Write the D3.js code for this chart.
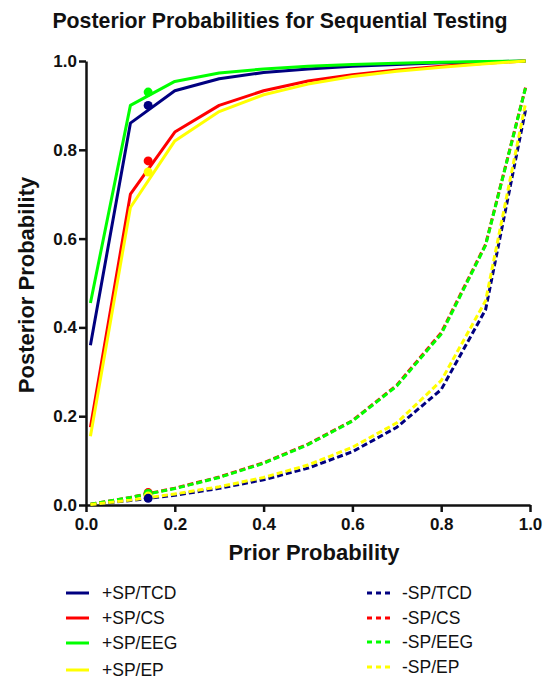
<!DOCTYPE html>
<html><head><meta charset="utf-8">
<script src="https://cdn.jsdelivr.net/npm/d3@7"></script>
<style>body{margin:0;background:#fff}svg{display:block}text{font-family:"Liberation Sans",Arial,sans-serif}</style>
</head><body><svg id="c" width="544" height="681"></svg>
<script>
const priorX = [0.01,0.1,0.2,0.3,0.4,0.5,0.6,0.7,0.8,0.9,0.99];
const posTCD = [0.36,0.86,0.933,0.96,0.974,0.982,0.988,0.992,0.996,0.998,1.0];
const posCS  = [0.175,0.70,0.84,0.90,0.933,0.955,0.969,0.98,0.988,0.995,1.0];
const posEEG = [0.455,0.90,0.954,0.973,0.982,0.988,0.992,0.995,0.997,0.999,1.0];
const posEP  = [0.155,0.67,0.82,0.886,0.924,0.948,0.965,0.977,0.986,0.994,1.0];
const negTCD = [0.001,0.01,0.022,0.0375,0.057,0.083,0.12,0.175,0.26,0.44,0.89];
const negCS  = [0.002,0.017,0.038,0.063,0.095,0.137,0.19,0.27,0.388,0.587,0.94];
const negEEG = [0.002,0.017,0.037,0.062,0.094,0.136,0.189,0.268,0.385,0.585,0.94];
const negEP  = [0.001,0.011,0.025,0.041,0.062,0.09,0.13,0.185,0.28,0.46,0.905];
const markerX = 0.14;
const markerPos = [0.90,0.775,0.93,0.75];   // TCD, CS, EEG, EP
const markerNeg = [0.015,0.028,0.026,0.02];
const tests = ["TCD","CS","EEG","EP"];
const colors = ["#000080","#ff0000","#00ff00","#ffff00"];
const ticks = [0,0.2,0.4,0.6,0.8,1.0];

const svg = d3.select("#c");
const x = d3.scaleLinear().domain([0,1]).range([86,530]);
const y = d3.scaleLinear().domain([0,1]).range([505,61]);

svg.append("text").attr("x",280).attr("y",28).attr("text-anchor","middle")
  .style("font-weight","bold").style("font-size","21.3px").attr("fill","#111").text("Posterior Probabilities for Sequential Testing");

const xa = svg.append("g").attr("transform","translate(0,505)")
  .call(d3.axisBottom(x).tickValues(ticks).tickFormat(d3.format(".1f")).tickSize(7).tickSizeOuter(0));
const ya = svg.append("g").attr("transform","translate(86,0)")
  .call(d3.axisLeft(y).tickValues(ticks).tickFormat(d3.format(".1f")).tickSize(7).tickSizeOuter(0));
[xa,ya].forEach(a=>{
  a.select(".domain").attr("stroke","#111").attr("stroke-width",2.5);
  a.selectAll(".tick line").attr("stroke","#111").attr("stroke-width",2.5);
  a.selectAll(".tick text").style("font-weight","bold").style("font-size","17px").attr("fill","#111");
});
xa.selectAll(".tick text").attr("dy","0.71em").attr("y",13);
ya.selectAll(".tick text").attr("x",-9);

svg.append("text").attr("x",314).attr("y",560).attr("text-anchor","middle")
  .style("font-weight","bold").style("font-size","22px").attr("fill","#111").text("Prior Probability");
svg.append("text").attr("transform","translate(34,285) rotate(-90)").attr("text-anchor","middle")
  .style("font-weight","bold").style("font-size","22px").attr("fill","#111").text("Posterior Probability");

const line = d3.line().x(d=>x(d[0])).y(d=>y(d[1]));
const posSeries = [posTCD,posCS,posEEG,posEP];
const negSeries = [negTCD,negCS,negEEG,negEP];
negSeries.forEach((s,i)=>{
  svg.append("path").datum(priorX.map((p,j)=>[p,s[j]])).attr("d",line)
    .attr("fill","none").attr("stroke",colors[i]).attr("stroke-width",3).attr("stroke-dasharray","6,3");
});
posSeries.forEach((s,i)=>{
  svg.append("path").datum(priorX.map((p,j)=>[p,s[j]])).attr("d",line)
    .attr("fill","none").attr("stroke",colors[i]).attr("stroke-width",3).attr("stroke-linejoin","round");
});
const mOrder=[1,2,3,0];
mOrder.forEach(i=>{
  svg.append("circle").attr("cx",x(markerX)).attr("cy",y(markerPos[i])).attr("r",4.5).attr("fill",colors[i]);
  svg.append("circle").attr("cx",x(markerX)).attr("cy",y(markerNeg[i])).attr("r",4.5).attr("fill",colors[i]);
});

const legY = [593,618,643,670];
const legY2 = [593,618,642,667];
tests.forEach((t,i)=>{
  svg.append("line").attr("x1",66).attr("x2",89).attr("y1",legY[i]).attr("y2",legY[i])
    .attr("stroke",colors[i]).attr("stroke-width",3);
  svg.append("text").attr("x",102).attr("y",legY[i]+6).style("font-size","17.5px").attr("fill","#111").text("+SP/"+t);
  svg.append("line").attr("x1",367).attr("x2",390).attr("y1",legY2[i]).attr("y2",legY2[i])
    .attr("stroke",colors[i]).attr("stroke-width",3).attr("stroke-dasharray","5,4");
  svg.append("text").attr("x",402).attr("y",legY2[i]+6).style("font-size","17.5px").attr("fill","#111").text("-SP/"+t);
});
</script></body></html>
